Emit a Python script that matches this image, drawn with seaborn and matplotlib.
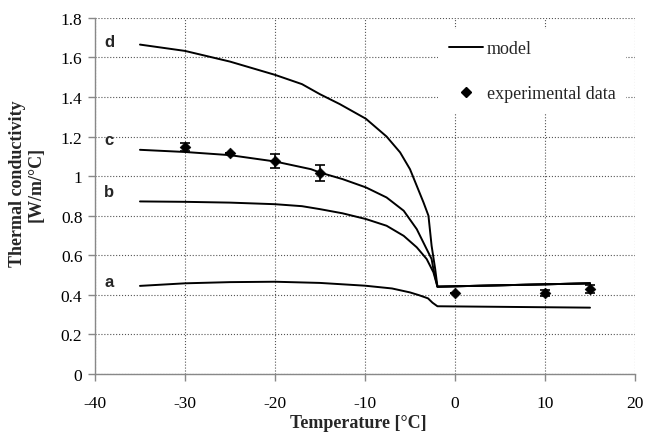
import matplotlib
matplotlib.use('Agg')
import matplotlib.pyplot as plt
import seaborn as sns
import pandas as pd
from matplotlib.lines import Line2D

# model curves (temperature in degC, conductivity in W/m/degC)
a_temp = [-35, -30, -25, -20, -15, -10, -7, -5, -4, -3, -2.5, -1.95, 15]
a_k = [0.445, 0.458, 0.464, 0.466, 0.46, 0.446, 0.432, 0.412, 0.398, 0.382, 0.36, 0.342, 0.335]

b_temp = [-35, -30, -25, -20, -17, -15, -12.5, -9.9, -7.6, -5.7, -4.25, -3.15, -2.4, -1.95, 15]
b_k = [0.872, 0.870, 0.866, 0.858, 0.848, 0.833, 0.812, 0.783, 0.749, 0.698, 0.64, 0.581, 0.514, 0.441, 0.458]

c_temp = [-35, -30, -25, -20, -16, -15, -12.5, -9.9, -7.6, -5.7, -4.25, -3.15, -2.6, -2.4, -1.95, 15]
c_k = [1.133, 1.122, 1.106, 1.074, 1.035, 1.018, 0.985, 0.943, 0.892, 0.825, 0.732, 0.631, 0.581, 0.53, 0.441, 0.458]

d_temp = [-35, -30, -25, -20, -17, -15, -12.8, -9.9, -7.6, -6.1, -5, -4.25, -3.5, -2.95, -2.6, -2.2, -1.95, 15]
d_k = [1.665, 1.633, 1.579, 1.512, 1.465, 1.414, 1.364, 1.29, 1.2, 1.12, 1.035, 0.951, 0.867, 0.80, 0.648, 0.53, 0.441, 0.458]

# experimental points
exp_temp = [-30, -25, -20, -15, 0, 10, 15]
exp_k = [1.147, 1.118, 1.078, 1.015, 0.407, 0.408, 0.428]
exp_err = [0.022, 0.0, 0.035, 0.04, 0.0, 0.015, 0.02]

curve_names = ['a', 'b', 'c', 'd']
label_k = [0.466, 0.921, 1.183, 1.683]

sns.set_theme(style='white')
plt.rcParams['font.family'] = ['Liberation Serif', 'DejaVu Serif']
plt.rcParams['axes.unicode_minus'] = False

fig, ax = plt.subplots(figsize=(6.46, 4.39), dpi=100)
fig.subplots_adjust(left=0.147, right=0.983, top=0.957, bottom=0.146)

frames = []
for name, xs, ys in zip(curve_names, [a_temp, b_temp, c_temp, d_temp], [a_k, b_k, c_k, d_k]):
    frames.append(pd.DataFrame({'T': xs, 'k': ys, 'curve': name}))
df = pd.concat(frames, ignore_index=True)

sns.lineplot(data=df, x='T', y='k', units='curve', estimator=None, sort=False,
             color='black', lw=1.4, ax=ax, zorder=3)

ax.errorbar(exp_temp, exp_k, yerr=exp_err, fmt='none', ecolor='black',
            elinewidth=1.2, capsize=3.5, capthick=1.2, zorder=4)
sns.scatterplot(x=exp_temp, y=exp_k, marker='D', s=30, color='black',
                edgecolor='black', ax=ax, zorder=5)

for name, yk in zip(curve_names, label_k):
    ax.text(-38.4, yk, name, family='Liberation Sans', fontweight='bold',
            fontsize=12, ha='center', va='center')

ax.set_xlim(-40, 20)
ax.set_ylim(0, 1.8)
ax.set_xticks(range(-40, 21, 10))
yt = [0, 0.2, 0.4, 0.6, 0.8, 1.0, 1.2, 1.4, 1.6, 1.8]
ax.set_yticks(yt)
ax.set_yticklabels(['{:g}'.format(v) for v in yt])

ax.grid(True, linestyle=':', color='#555555', lw=0.8)
ax.set_axisbelow(True)
for s in ['top', 'right']:
    ax.spines[s].set_visible(False)
for s in ['left', 'bottom']:
    ax.spines[s].set_color('#888888')
    ax.spines[s].set_linewidth(1.0)
ax.tick_params(bottom=True, left=True, direction='out', length=5, width=1,
               color='#888888', labelsize=12.5, labelcolor='black', pad=4)
ax.tick_params(axis='x', pad=10.5)

ax.set_xlabel('Temperature [°C]', fontweight='bold', fontsize=13)
ax.xaxis.set_label_coords(0.488, -0.114)
ax.set_ylabel('Thermal conductivity\n[W/m/°C]', fontweight='bold', fontsize=13, linespacing=1.1)
ax.yaxis.set_label_coords(-0.093, 0.536)

handles = [Line2D([], [], color='black', lw=1.4, label='model'),
           Line2D([], [], color='black', marker='D', ls='none', ms=5, label='experimental data')]
ax.legend(handles=handles, loc='upper right', bbox_to_anchor=(0.984, 0.968),
          frameon=True, facecolor='white', edgecolor='none', framealpha=1,
          fancybox=False, fontsize=13, labelspacing=1.55, handlelength=1.9,
          handletextpad=0.2, borderpad=0.6, borderaxespad=0)

plt.savefig('out.png', dpi=100)
